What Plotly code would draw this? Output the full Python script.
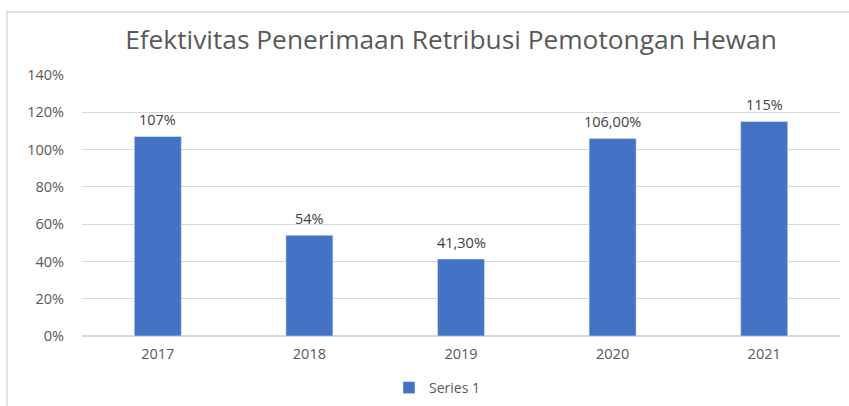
import plotly.graph_objects as go

years = ["2017", "2018", "2019", "2020", "2021"]
values = [1.07, 0.54, 0.413, 1.06, 1.15]
labels = ["107%", "54%", "41,30%", "106,00%", "115%"]
tick_vals = [0, 0.2, 0.4, 0.6, 0.8, 1.0, 1.2, 1.4]
tick_text = ["0%", "20%", "40%", "60%", "80%", "100%", "120%", "140%"]

W, H = 849, 406
L, R, T, B = 82, 9, 75, 70
pw, ph = W - L - R, H - T - B

def px(x):
    return (x - L) / pw

def py(y):
    return (H - B - y) / ph

fig = go.Figure()
fig.add_trace(go.Bar(
    x=years, y=values, name="Series 1",
    marker=dict(color="#4472C4"),
))

# on a category axis, annotation x is the category index
for i, (v, lab) in enumerate(zip(values, labels)):
    fig.add_annotation(x=i, y=v, text=lab, showarrow=False, yanchor="middle",
                       yshift=17, font=dict(size=14.5, color="#404040"))

fig.update_layout(
    width=W, height=H,
    margin=dict(l=L, r=R, t=T, b=B, autoexpand=False),
    paper_bgcolor="white", plot_bgcolor="white",
    font=dict(family="Open Sans, sans-serif", color="#595959"),
    title=dict(text="Efektivitas Penerimaan Retribusi Pemotongan Hewan",
               x=451 / W, xanchor="center", y=1 - 40 / H, yanchor="middle",
               font=dict(size=26.3, color="#595959")),
    bargap=0.69,
    showlegend=True,
    legend=dict(orientation="h", x=px(437), xanchor="center", y=py(388), yanchor="middle",
                font=dict(size=14, color="#595959"), itemwidth=30),
    xaxis=dict(type="category", categoryarray=years, range=[-0.5, len(years) - 0.5],
               showgrid=False, showline=False, ticks="",
               tickfont=dict(size=14.5, color="#595959"),
               ticklabelstandoff=7, automargin=False),
    yaxis=dict(range=[0, 1.4], tickvals=tick_vals, ticktext=tick_text, showgrid=True,
               gridcolor="#d9d9d9", zeroline=True, zerolinecolor="#d9d9d9", automargin=False,
               tickfont=dict(size=14.5, color="#595959"), ticklabelstandoff=17),
    shapes=[dict(type="rect", xref="paper", yref="paper",
                 x0=px(7), x1=px(W + 5), y0=py(H + 5), y1=py(12),
                 line=dict(color="#d9d9d9", width=1.5), fillcolor="rgba(0,0,0,0)", layer="below")],
)

fig.write_html("out.html", config={"displayModeBar": False},
               post_script="document.body.style.margin='0';document.body.style.overflow='hidden';")
